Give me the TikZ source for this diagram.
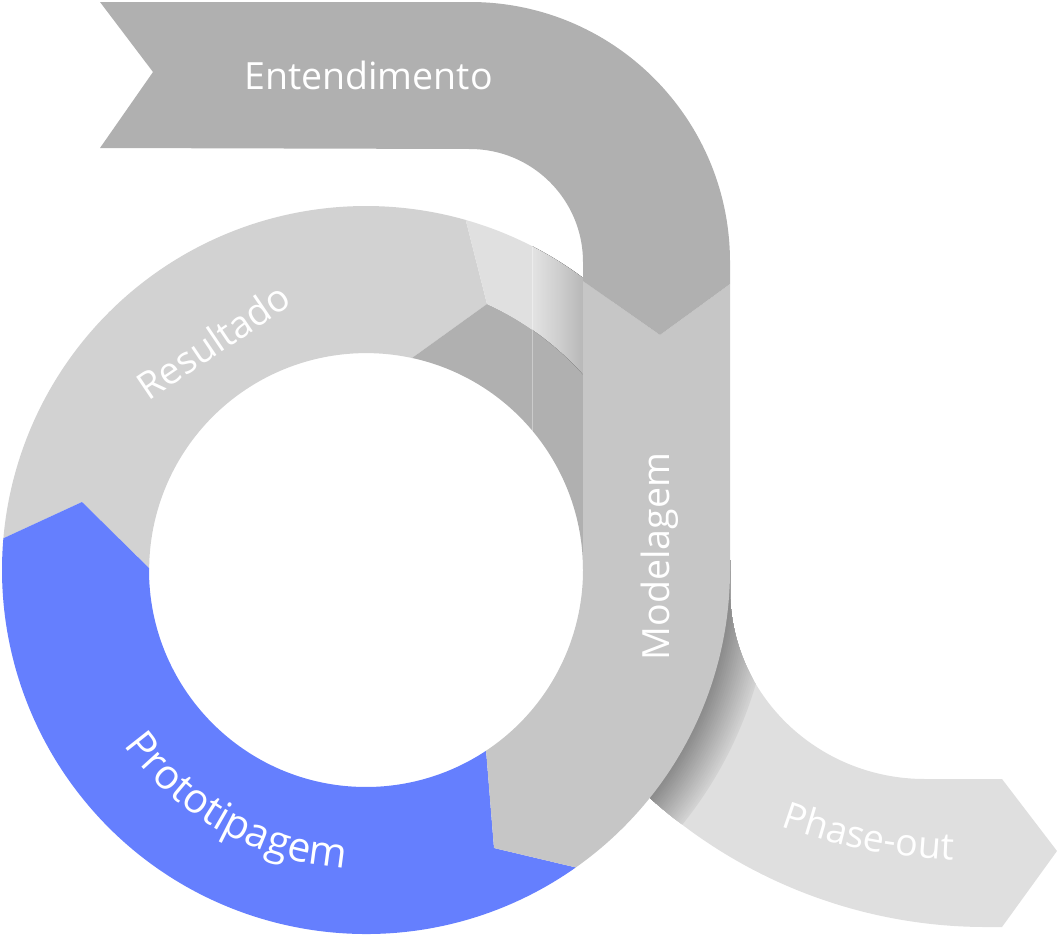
\documentclass[tikz,border=0pt]{standalone}
\usepackage{fontspec}
\setmainfont{Open Sans}
\usetikzlibrary{calc,decorations.text}
\definecolor{ent}{HTML}{B0B0B0}
\definecolor{res}{HTML}{D2D2D2}
\definecolor{mod}{HTML}{C6C6C6}
\definecolor{pro}{HTML}{657FFE}
\definecolor{pha}{HTML}{DFDFDF}
\definecolor{foldl}{HTML}{E0E0E0}
\definecolor{foldd}{HTML}{B0B0B0}
\definecolor{shdk}{HTML}{898989}
\definecolor{shlt}{HTML}{D2D2D2}
\definecolor{glt}{HTML}{E7E7E7}
\definecolor{gmd}{HTML}{CFCFCF}
\definecolor{gdk}{HTML}{B3B3B3}
\definecolor{gxd}{HTML}{959595}
\pgfdeclarehorizontalshading{fgrad}{100bp}{color(0bp)=(foldl); color(20bp)=(glt); color(50bp)=(gmd); color(80bp)=(gdk); color(100bp)=(gxd)}
\newcommand\lblfont{\fontsize{37.5}{40}\selectfont}
\newcommand\profont{\fontsize{41}{44}\selectfont}
\newcommand\phafont{\fontsize{37.5}{40}\selectfont}
\begin{document}
\begin{tikzpicture}[x=1pt,y=-1pt]
\tikzset{lbl/.style={text=white,font=\lblfont,inner sep=0pt}}
\useasboundingbox (0,0) rectangle (1057,937);
\coordinate (C) at (366,570);
% Phase-out band
\path[fill=pha] (730,560) -- (730,590) arc[start angle=180,end angle=90,x radius=195,y radius=189]
  -- (1002,779) -- (1057,851) -- (1002,927) -- (986,927)
  arc[start angle=90,end angle=135,radius=502] -- (640,600) -- cycle;
\begin{scope}
\clip (730,560) -- (730,590) arc[start angle=180,end angle=90,x radius=195,y radius=189]
  -- (1002,779) -- (1057,851) -- (1002,927) -- (986,927)
  arc[start angle=90,end angle=135,radius=502] -- (640,600) -- cycle;
\foreach \i in {0,...,21}{
  \pgfmathsetmacro\rr{406-2*\i}
  \pgfmathsetmacro\pp{100-\i*100/21}
  \fill[shlt!\pp!shdk] (C) circle[radius=\rr];
}
\end{scope}
% Resultado
\fill[res] ($(C)+(185:364)$) arc[start angle=185,end angle=285.9,radius=364]
  -- (487,304) -- (412,358) arc[start angle=282.2,end angle=180.5,radius=217]
  -- (82,502) -- cycle;
% Prototipagem
\fill[pro] ($(C)+(185:364)$) -- (82,502) -- ($(C)+(180.5:217)$)
  arc[start angle=180.5,end angle=56.4,radius=217] -- (494,848)
  -- ($(C)+(54.8:364)$) arc[start angle=54.8,end angle=185,radius=364] -- cycle;
% fold, lower dark part
\fill[foldd] (412,358) -- (487,304) arc[start angle=294.5,end angle=360,radius=292]
  -- ($(C)+(0:217)$) arc[start angle=360,end angle=282.2,radius=217] -- cycle;
% fold, upper light part
\fill[foldl] ($(C)+(285.9:364)$) -- (487,304) arc[start angle=294.5,end angle=330,radius=292]
  -- ($(C)+(330:364)$) arc[start angle=330,end angle=285.9,radius=364] -- cycle;
\begin{scope}
\clip ($(C)+(285.9:364)$) -- (487,304) arc[start angle=294.5,end angle=330,radius=292]
  -- ($(C)+(330:364)$) arc[start angle=330,end angle=285.9,radius=364] -- cycle;
\fill[shading=fgrad] (532,200) rectangle (583,420);
\end{scope}
\draw[white,opacity=0.35,line width=0.8pt] (532,246) -- (532,430.5);
% Modelagem
\fill[mod] (583,281) -- (660,335) -- (730,284) -- (730,570)
  arc[start angle=0,end angle=54.8,radius=364] -- (494,848)
  -- ($(C)+(56.4:217)$) arc[start angle=56.4,end angle=0,radius=217] -- cycle;
% Entendimento
\fill[ent] (100,2) -- (470,2) arc[start angle=270,end angle=360,radius=260]
  -- (730,284) -- (660,335) -- (583,281) -- (583,262)
  arc[start angle=0,end angle=-90,radius=113] -- (100,148) -- (153,72) -- cycle;
% labels
\node[lbl,anchor=base] (tE) at (368.5,89) {Entendimento};
\node[lbl,rotate=90,anchor=base] (tM) at (669,556.5) {Modelagem};
\node[lbl,rotate=34] (tR) at (213,341) {Resultado};
\path[decorate,decoration={text along path,text align=center,text color=white,
  text={|\profont|Prototipagem}}]
  ($(C)+(152:299)$) arc[start angle=152,end angle=86,radius=299];
\path[decorate,decoration={text along path,text align=center,text color=white,
  text={|\phafont|Phase-out}}]
  ($(972,303)+(121:557)$) arc[start angle=121,end angle=81,radius=557];
\end{tikzpicture}
\end{document}
